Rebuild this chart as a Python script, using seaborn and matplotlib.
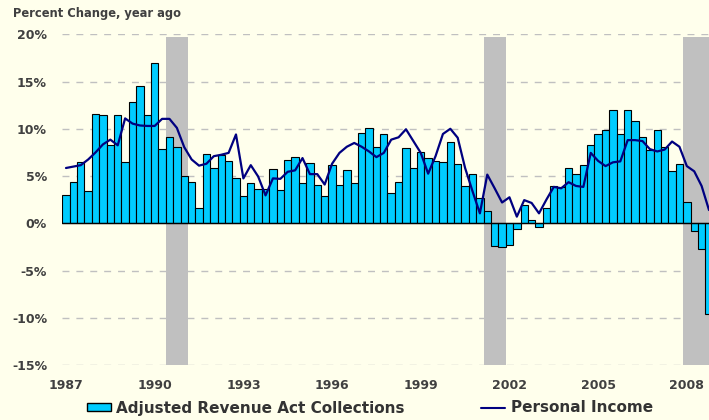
import numpy as np
import pandas as pd
import matplotlib
matplotlib.use("Agg")
import matplotlib.pyplot as plt
from matplotlib.patches import Patch
from matplotlib.lines import Line2D
import seaborn as sns

# quarterly, 1987Q1 .. 2008Q4
revenue = [3.0, 4.4, 6.45, 3.4, 11.55, 11.45, 8.25, 11.45, 6.45, 12.85, 14.55, 11.45,
           17.0, 7.85, 9.15, 8.1, 5.0, 4.35, 1.6, 7.35, 5.8, 7.2, 6.6, 4.75,
           2.9, 4.25, 3.6, 3.6, 5.75, 3.5, 6.7, 7.05, 4.25, 6.4, 4.05, 2.9,
           6.15, 4.05, 5.65, 4.25, 9.55, 10.1, 8.1, 9.45, 3.2, 4.35, 8.0, 5.85,
           7.55, 6.9, 6.6, 6.5, 8.6, 6.3, 3.95, 5.2, 2.65, 1.3, -2.45, -2.55,
           -2.35, -0.6, 1.9, 0.3, -0.4, 1.6, 3.95, 3.85, 5.85, 5.2, 6.15, 8.25,
           9.45, 9.9, 12.0, 9.45, 12.0, 10.8, 9.15, 7.75, 9.9, 8.05, 5.55, 6.3,
           2.3, -0.85, -2.75, -9.55]
income = [5.85, 6.0, 6.15, 6.75, 7.5, 8.35, 8.85, 8.25, 11.1, 10.55, 10.35, 10.3,
          10.3, 11.05, 11.05, 10.1, 8.05, 6.75, 6.1, 6.3, 7.1, 7.25, 7.45, 9.4,
          4.75, 6.15, 4.95, 2.95, 4.75, 4.7, 5.45, 5.6, 6.9, 5.2, 5.2, 4.1,
          6.3, 7.45, 8.1, 8.5, 8.1, 7.6, 7.0, 7.45, 8.85, 9.1, 9.95, 8.7,
          7.45, 5.25, 7.1, 9.45, 10.0, 9.05, 5.85, 3.4, 1.05, 5.15, 3.7, 2.2,
          2.75, 0.7, 2.45, 2.15, 1.05, 2.5, 3.85, 3.7, 4.35, 3.95, 3.85, 7.45,
          6.6, 6.05, 6.45, 6.55, 8.8, 8.8, 8.7, 7.85, 7.6, 7.8, 8.65, 8.1,
          6.05, 5.5, 3.95, 1.4]
years = list(range(1987, 2009, 3))
# recessions as (first quarter index, last quarter index)
recessions = [(14, 16), (57, 59), (84, 90)]

bg = "#FFFFEC"
bar_color = "#00CCFF"
line_color = "#000080"
text_color = "#404040"

df = pd.DataFrame({"q": np.arange(len(revenue)), "revenue": revenue, "income": income})

sns.set_style("white")
plt.rcParams["font.family"] = ["DejaVu Sans"]

fig = plt.figure(figsize=(7.09, 4.2), dpi=100, facecolor=bg)
ax = fig.add_axes([62.3 / 709, 1 - 365 / 420, 1 - 62.3 / 709, (365 - 34.3) / 420])
ax.set_facecolor(bg)

for a, b in recessions:
    ax.axvspan(a - 0.5, b + 0.5, ymin=0, ymax=34.7 / 35, color="#C0C0C0", lw=0, zorder=1)

sns.barplot(data=df, x="q", y="revenue", color=bar_color, width=1.0, saturation=1,
            edgecolor="black", linewidth=0.8, ax=ax, zorder=2)
sns.lineplot(data=df, x="q", y="income", color=line_color, linewidth=1.6, ax=ax, zorder=4)
ax.axhline(0, color="black", lw=1.0, zorder=3)

ax.set_ylim(-15, 20)
ax.set_xlim(-0.5, 87.0)
ax.set_yticks(range(-15, 21, 5))
ax.set_yticklabels([f"{v}%" for v in range(-15, 21, 5)])
ax.set_xticks([(y - 1987) * 4 for y in years])
ax.set_xticklabels([str(y) for y in years])
ax.tick_params(axis="both", length=0, labelsize=9, labelcolor=text_color)
ax.tick_params(axis="y", pad=11)
ax.tick_params(axis="x", pad=10)
for lab in ax.get_xticklabels() + ax.get_yticklabels():
    lab.set_fontweight("bold")

for v in range(-15, 21, 5):
    if v != 0:
        ax.axhline(v, color="#C0C0C0", lw=1, ls=(0, (5, 5)), zorder=0.5)
ax.set_xlabel("")
ax.set_ylabel("")
sns.despine(ax=ax, left=True, bottom=True)

fig.text(13 / 709, 1 - 13 / 420, "Percent Change, year ago", fontsize=8.3,
         fontweight="bold", color=text_color, va="center", ha="left")

handles = [Patch(facecolor=bar_color, edgecolor="black", lw=1),
           Line2D([0], [0], color=line_color, lw=1.5)]
fig.legend(handles, ["Adjusted Revenue Act Collections", "Personal Income"],
           loc="center", bbox_to_anchor=(370 / 709, 1 - 408 / 420), ncol=2,
           frameon=False, columnspacing=5.0, handlelength=1.57, handleheight=0.5,
           handletextpad=0.35, labelcolor="#333333",
           prop={"size": 11, "weight": "bold"})

fig.savefig("out.png", dpi=100, facecolor=bg)
